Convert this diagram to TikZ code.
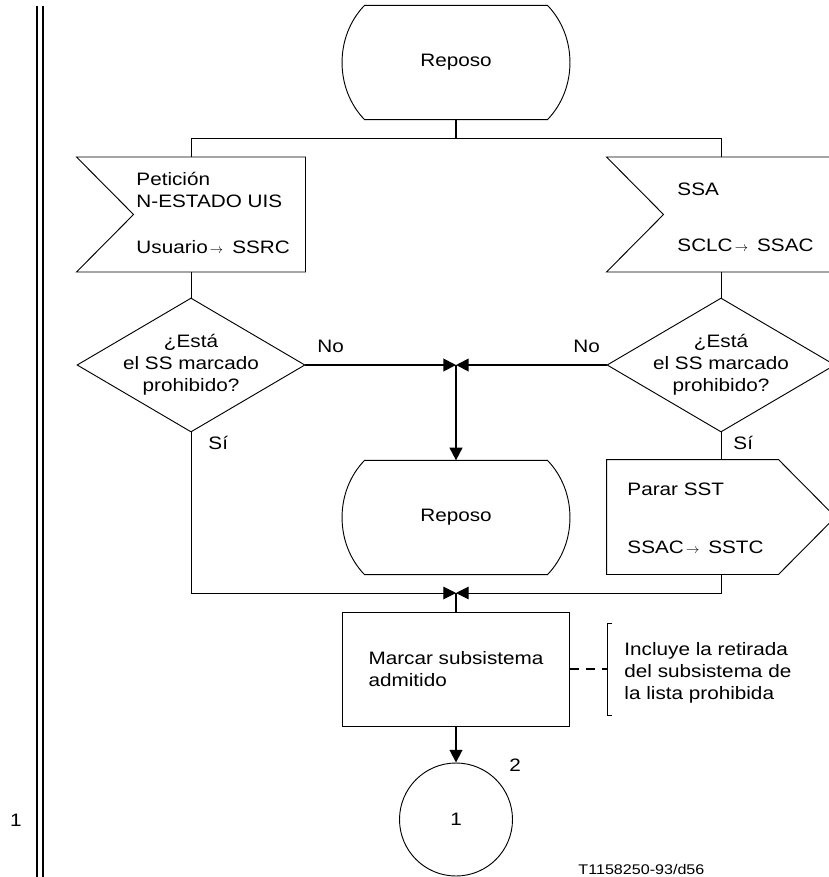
\documentclass[tikz,border=0pt]{standalone}
\usepackage{fontspec}
\setmainfont{Liberation Sans}[FakeStretch=1.15]
\usetikzlibrary{arrows.meta,shapes.geometric,calc}

\newcommand{\gives}{\hspace{0.12em}{\normalsize$\rightarrow$}\hspace{0.5em}}

\begin{document}
\begin{tikzpicture}[x=0.75pt, y=-0.75pt, line width=0.7pt,
    font=\fontsize{13.5}{16.5}\selectfont,
    >={Triangle[length=9.5pt,width=9.5pt]},
    state/.style={inner sep=0pt, minimum width=171pt, minimum height=85pt},
    sigbox/.style={inner sep=0pt, minimum width=171pt, minimum height=85.5pt},
    decision/.style={draw, diamond, inner sep=0pt,
                     minimum width=171pt, minimum height=100.5pt},
    task/.style={draw, inner sep=0pt, align=left,
                 minimum width=170.25pt, minimum height=85.5pt},
    conn/.style={draw, circle, inner sep=0pt, minimum size=84.75pt},
    txt/.style={inner sep=0pt, align=left},
    bold/.style={line width=1.4pt},
    dashes/.style={line width=1.2pt, dash pattern=on 7pt off 5pt}]

  \useasboundingbox (0,0) rectangle (828,877);

  %% Margin rule
  \draw[line width=1.5pt] (37,6) -- (37,877);
  \draw[line width=1.5pt] (43,6) -- (43,877);
  \node[txt, anchor=base] (rail) at (16,826) {1};

  %% Start state
  \node[state] (rep1) at (456,62.5) {Reposo};

  %% Two inputs
  \node[sigbox] (in1) at (191,214.5) {};
  \node[sigbox] (in2) at (721,214.5) {};
  \foreach \n in {in1,in2}
    \draw (\n.north west) -- (\n.north east) -- (\n.south east)
      -- (\n.south west) -- ($(\n.west)+(57,0)$) -- cycle;

  \node[txt, anchor=north west] (in1h) at (136,172)
    {Petición\\N-ESTADO UIS};
  \node[txt, anchor=base west] (in1r) at (136,253) {Usuario\gives SSRC};
  \node[txt, anchor=base west] (in2h) at (677,196) {SSA};
  \node[txt, anchor=base west] (in2r) at (677,251) {SCLC\gives SSAC};

  \draw[bold] (rep1.south) -- ++(0,19);
  \draw (rep1.south) ++(0,19) -| (in1.north);
  \draw (rep1.south) ++(0,19) -| (in2.north);

  %% Decisions
  \node[decision] (q1) at (191,365) {};
  \node[decision] (q2) at (721,365) {};
  \foreach \n in {q1,q2}
    \node[txt, align=center, anchor=north] (\n t) at ($(\n.north)+(0,36)$)
      {¿Está\\el SS marcado\\prohibido?};
  \draw (in1.south) -- (q1.north);
  \draw (in2.south) -- (q2.north);

  \node[txt, anchor=base west] (no1) at (317,352) {No};
  \node[txt, anchor=base west] (no2) at (573,352) {No};
  \node[txt, anchor=base west] (si1) at (208,449) {Sí};
  \node[txt, anchor=base west] (si2) at (733,449) {Sí};

  %% "No" branches back to rest
  \coordinate (j1) at (456,365);
  \node[state] (rep2) at (456,517.5) {Reposo};
  \draw[bold,->] (q1.east) -- (j1);
  \draw[bold,->] (q2.west) -- (j1);
  \draw[bold,->] (j1) -- (rep2.north);

  \foreach \n in {rep1,rep2}
    \draw ($(\n.north west)+(23,0)$) -- ($(\n.north east)+(-23,0)$)
      .. controls +(30,31) and +(30,-31) .. ($(\n.south east)+(-23,0)$)
      -- ($(\n.south west)+(23,0)$)
      .. controls +(-30,-31) and +(-30,31) .. ($(\n.north west)+(23,0)$)
      -- cycle;

  %% Output on the right branch
  \node[sigbox] (out2) at (721,517) {};
  \draw (out2.north west) -- ($(out2.north east)+(-57,0)$) -- (out2.east)
    -- ($(out2.south east)+(-57,0)$) -- (out2.south west) -- cycle;
  \node[txt, anchor=base west] (out2h) at (627,495) {Parar SST};
  \node[txt, anchor=base west] (out2r) at (627,553) {SSAC\gives SSTC};
  \draw (q2.south) -- (out2.north);

  %% "Sí" branches merge
  \coordinate (j2) at (456,593);
  \draw[->] (q1.south) |- (j2);
  \draw[->] (out2.south) |- (j2);

  %% Task and comment
  \node[task] (mark) at (456,669) {Marcar subsistema\\admitido};
  \draw[bold] (j2) -- (mark.north);

  \node[txt, anchor=north west] (note) at (624,641.5)
    {Incluye la retirada\\del subsistema de\\la lista prohibida};
  \coordinate (brk) at ($(note.west)+(-17,0)$);
  \draw ($(note.north west)+(-12,-18)$) -- ++(-5,0)
    |- ($(note.south west)+(-12,12)$);
  \draw[dashes] (mark.east) -- (mark.east -| brk);

  %% Connector
  \node[conn] (c1) at (456,819.5) {1};
  \draw[bold,->] (mark.south) -- (c1.north);
  \node[txt, anchor=base west] (c1n) at (509,771) {2};

  \node[txt, anchor=base west, font=\fontsize{10.5}{12}\selectfont]
    (tag) at (578,874) {T1158250-93/d56};
\end{tikzpicture}
\end{document}
